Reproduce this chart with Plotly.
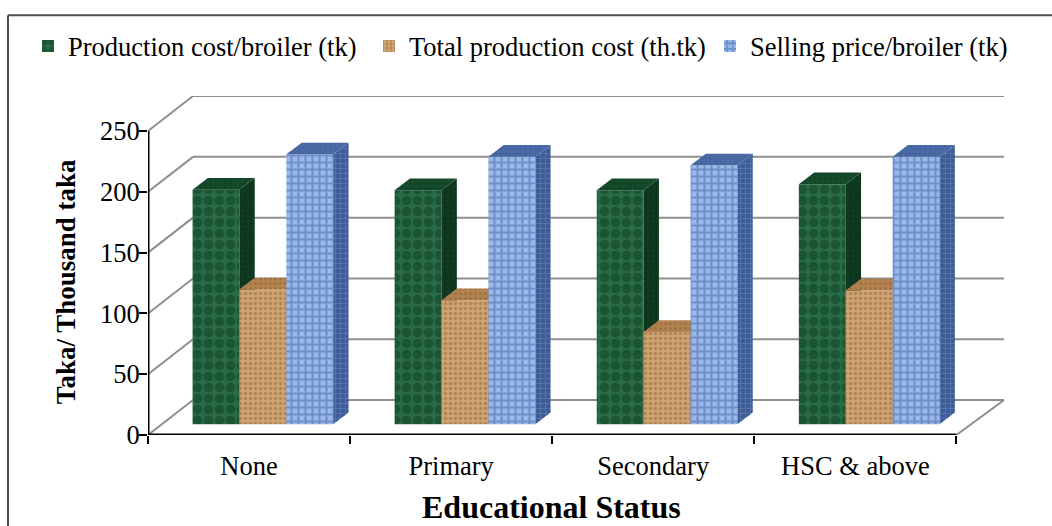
import plotly.graph_objects as go

categories = ["None", "Primary", "Secondary", "HSC &amp; above"]
production_cost = [193, 192.5, 192.5, 197.5]
total_cost = [111, 102, 76, 110]
selling_price = [222, 220, 213, 220]
y_ticks = [0, 50, 100, 150, 200, 250]

W, H = 1052, 526
L, R, T, B = 148, 1004, 95.7, 435
PX_X = 202.1      # pixels per category
PX_Y = 1.217      # pixels per value unit
X_MAX = (R - L) / PX_X
Y_MAX = (B - T) / PX_Y
WALL_DX, WALL_DY = 45 / PX_X, 35 / PX_Y
BAR_DX, BAR_DY = 15.3 / PX_X, 11.7 / PX_Y
BASE_Y = 10.7 / PX_Y
BAR_W = 46.9 / PX_X
FONT = "Liberation Serif"


def paper_y(py):
    return (B - py) / (B - T)


series = [
    dict(name="Production cost/broiler (tk)", values=production_cost, off=-1,
         bg="#2a6b47", fg="#0e3f22", shape=".", size=11, sol=0.6,
         side="#0f3a20", side_fg="#082a16", top="#154a2b"),
    dict(name="Total production cost (th.tk)", values=total_cost, off=0,
         bg="#cfa473", fg="#96683a", shape=".", size=5, sol=0.4,
         side="#8a6238", side_fg="#6f4c2a", top="#b3824f"),
    dict(name="Selling price/broiler (tk)", values=selling_price, off=1,
         bg="#9bb8ec", fg="#44689f", shape="+", size=7, sol=0.5,
         side="#3d5c96", side_fg="#7390c6", top="#4a6aa6"),
]

fig = go.Figure()
centers = [i + 0.5 + 0.0685 for i in range(len(categories))]

for k, s in enumerate(series):
    ax = "" if k == 0 else str(k + 1)
    xa, ya = "x" + ax, "y" + ax
    xs = [c + s["off"] * BAR_W for c in centers]
    fig.add_trace(go.Bar(
        x=xs, y=s["values"], base=BASE_Y, width=BAR_W, name=s["name"],
        xaxis=xa, yaxis=ya,
        marker=dict(color=s["bg"], line=dict(width=0),
                    pattern=dict(shape=s["shape"], bgcolor=s["bg"], fgcolor=s["fg"],
                                 size=s["size"], solidity=s["sol"], fillmode="overlay")),
    ))
    for xc, v in zip(xs, s["values"]):
        x0, x1 = xc - BAR_W / 2, xc + BAR_W / 2
        top = v + BASE_Y
        fig.add_trace(go.Scatter(
            x=[x1, x1 + BAR_DX, x1 + BAR_DX, x1, x1],
            y=[BASE_Y, BASE_Y + BAR_DY, top + BAR_DY, top, BASE_Y],
            mode="lines", line=dict(width=0), fill="toself", showlegend=False,
            hoverinfo="skip", xaxis=xa, yaxis=ya,
            fillcolor=s["side"],
            fillpattern=dict(shape=s["shape"], bgcolor=s["side"], fgcolor=s["side_fg"],
                             size=5, solidity=0.3),
        ))
        fig.add_trace(go.Scatter(
            x=[x0, x0 + BAR_DX, x1 + BAR_DX, x1, x0],
            y=[top, top + BAR_DY, top + BAR_DY, top, top],
            mode="lines", line=dict(width=0), fill="toself", showlegend=False,
            hoverinfo="skip", xaxis=xa, yaxis=ya,
            fillcolor=s["top"],
            fillpattern=dict(shape=s["shape"], bgcolor=s["top"], fgcolor=s["side"],
                             size=5, solidity=0.3),
        ))

# walls and floor
shapes = []
GRID = dict(color="#8f8f8f", width=2)
for v in y_ticks:
    shapes.append(dict(type="line", xref="x", yref="y", layer="below", line=GRID,
                       x0=0, y0=v, x1=WALL_DX, y1=v + WALL_DY))
    shapes.append(dict(type="line", xref="x", yref="y", layer="below", line=GRID,
                       x0=WALL_DX, y0=v + WALL_DY, x1=X_MAX, y1=v + WALL_DY))
shapes.append(dict(type="line", xref="x", yref="y", layer="below", line=GRID,
                   x0=len(categories), y0=0, x1=X_MAX, y1=WALL_DY))
# axis lines
AXIS = dict(color="black", width=3)
shapes.append(dict(type="line", xref="x", yref="y", line=AXIS, x0=0, y0=0, x1=0, y1=y_ticks[-1]))
shapes.append(dict(type="line", xref="x", yref="y", line=AXIS, x0=0, y0=0, x1=len(categories), y1=0))
# chart frame, open towards the right and the bottom of the picture
FRAME = dict(color="#505050", width=2)
shapes.append(dict(type="line", xref="paper", yref="paper", line=FRAME,
                   x0=8 / W, x1=1, y0=paper_y(15), y1=paper_y(15)))
shapes.append(dict(type="line", xref="paper", yref="paper", line=FRAME,
                   x0=8 / W, x1=8 / W, y0=paper_y(H + 2), y1=paper_y(15)))

tick_font = dict(family=FONT, size=26.5, color="black")
dom_x = [L / W, R / W]
base_x = dict(range=[0, X_MAX], domain=dom_x, showgrid=False, zeroline=False, showline=False)
base_y = dict(range=[0, Y_MAX], domain=[0, 1], showgrid=False, zeroline=False, showline=False)

annotations = [
    dict(text="<b>Educational Status</b>", xref="paper", yref="paper",
         x=551 / W, y=paper_y(507), xanchor="center", yanchor="middle", showarrow=False,
         font=dict(family=FONT, size=32, color="black")),
    dict(text="<b>Taka/ Thousand taka</b>", xref="paper", yref="paper", textangle=-90,
         x=66 / W, y=paper_y(282), xanchor="center", yanchor="middle", showarrow=False,
         font=dict(family=FONT, size=27, color="black")),
]

fig.update_layout(
    width=W, height=H, autosize=False,
    margin=dict(l=0, r=0, t=T, b=H - B, pad=0),
    paper_bgcolor="white", plot_bgcolor="white",
    barmode="overlay", shapes=shapes, annotations=annotations,
    font=dict(family=FONT, color="black"),
    showlegend=True,
    legend=dict(orientation="h", x=28 / W, xanchor="left",
                y=paper_y(22), yanchor="top", itemwidth=30,
                entrywidth=296, entrywidthmode="pixels",
                font=dict(family=FONT, size=26.5, color="black"),
                bgcolor="rgba(0,0,0,0)", traceorder="normal",
                itemclick=False, itemdoubleclick=False),
    xaxis=dict(base_x, tickmode="array",
               tickvals=[i + 0.5 for i in range(len(categories))], ticktext=categories,
               ticks="", tickfont=tick_font, ticklabelstandoff=12),
    yaxis=dict(base_y, tickmode="array", tickvals=y_ticks, ticks="outside", ticklen=8,
               tickwidth=2, tickcolor="black", tickfont=tick_font, ticklabelstandoff=-6),
    xaxis2=dict(base_x, overlaying="x", side="bottom", tickmode="array",
                tickvals=list(range(len(categories) + 1)), ticktext=[""] * (len(categories) + 1),
                ticks="outside", ticklen=8, tickwidth=1.5, tickcolor="black"),
    yaxis2=dict(base_y, overlaying="y", showticklabels=False),
    xaxis3=dict(base_x, overlaying="x", showticklabels=False),
    yaxis3=dict(base_y, overlaying="y", showticklabels=False),
)

fig.write_html("out.html", config=dict(displayModeBar=False),
               post_script="document.body.style.margin='0';")
